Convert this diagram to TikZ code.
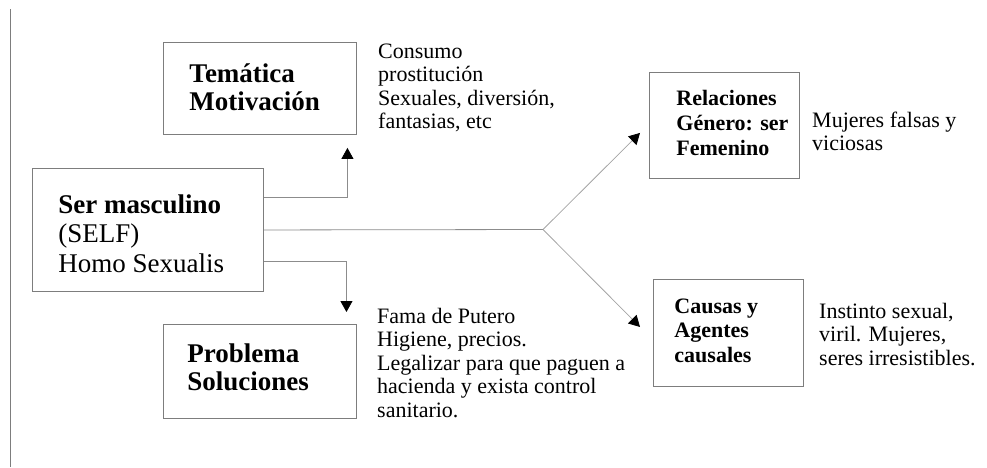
\documentclass[tikz,border=0pt]{standalone}
\usepackage{fontspec}
\setmainfont{Liberation Serif}
\usetikzlibrary{arrows.meta}
\definecolor{boxgray}{RGB}{125,125,125}
\definecolor{linegray}{RGB}{140,140,140}
\definecolor{diaggray}{RGB}{165,165,165}
\begin{document}
\begin{tikzpicture}[x=1pt,y=-1pt,
  box/.style={draw=boxgray, line width=0.9pt, inner sep=0pt, anchor=north west, align=flush left},
  bigtxt/.style={font=\fontsize{27}{28}\selectfont},
  smalltxt/.style={font=\fontsize{22}{25}\selectfont},
  sidetxt/.style={inner sep=0pt, anchor=base west, align=flush left, text width=320pt, font=\fontsize{22}{23.5}\selectfont},
  conn/.style={draw=linegray, line width=0.8pt},
  diag/.style={draw=diaggray, line width=0.8pt},
  tip/.style={-{Triangle[length=11pt,width=12pt,color=black]}}
]
\useasboundingbox (0,0) rectangle (987,467);

% left rule
\draw[draw=boxgray, line width=0.9pt] (10,9) -- (10,467);

% boxes
\node[box, bigtxt, text width=193pt] (tem) at (163,42)
  {\hspace*{26pt}\rule{0pt}{40pt}\textbf{Temática}\\
   \hspace*{26pt}\textbf{Motivación}\rule[-24pt]{0pt}{24pt}};

\node[box, font=\fontsize{27}{29.5}\selectfont, text width=231pt] (ser) at (32,168)
  {\hspace*{26pt}\rule{0pt}{45pt}\textbf{Ser masculino}\\
   \hspace*{26pt}(SELF)\\
   \hspace*{26pt}Homo Sexualis\rule[-19pt]{0pt}{19pt}};

\node[box, bigtxt, text width=193pt] (prob) at (163,324)
  {\hspace*{24pt}\rule{0pt}{38pt}\textbf{Problema}\\
   \hspace*{24pt}\textbf{Soluciones}\rule[-28pt]{0pt}{28pt}};

\node[box, smalltxt, text width=150pt] (rel) at (649,72)
  {\hspace*{27pt}\rule{0pt}{33pt}\textbf{Relaciones}\\
   \hspace*{27pt}\textbf{Género: ser}\\
   \hspace*{27pt}\textbf{Femenino}\rule[-23pt]{0pt}{23pt}};

\node[box, font=\fontsize{22}{24.5}\selectfont, text width=150pt] (cau) at (653,279)
  {\hspace*{21pt}\rule{0pt}{34pt}\textbf{Causas y}\\
   \hspace*{21pt}\textbf{Agentes}\\
   \hspace*{21pt}\textbf{causales}\rule[-24pt]{0pt}{24pt}};

% side texts
\node[sidetxt] (temtxt) at (378,58)
  {Consumo\\prostitución\\Sexuales, diversión,\\fantasias, etc};
\node[sidetxt] (probtxt) at (377,323)
  {Fama de Putero\\Higiene, precios.\\Legalizar para que paguen a\\hacienda y exista control\\sanitario.};
\node[sidetxt] (reltxt) at (812,127)
  {Mujeres falsas y\\viciosas};
\node[sidetxt] (cautxt) at (819,318)
  {Instinto sexual,\\viril. Mujeres,\\seres irresistibles.};

% connectors
\coordinate (j) at (543,229.5);
\draw[conn, tip] ([yshift=32.5pt]ser.east) -| ([xshift=87.5pt,yshift=-13pt]tem.south);
\draw[conn, tip] ([yshift=-31.5pt]ser.east) -| ([xshift=86.5pt,yshift=12pt]prob.north);
\draw[conn] (ser.east) -- (j);
\draw[diag, tip] (j) -- ([xshift=-9pt,yshift=-7.5pt]rel.west);
\draw[diag, tip] (j) -- ([xshift=-13pt,yshift=6pt]cau.west);
\end{tikzpicture}
\end{document}
